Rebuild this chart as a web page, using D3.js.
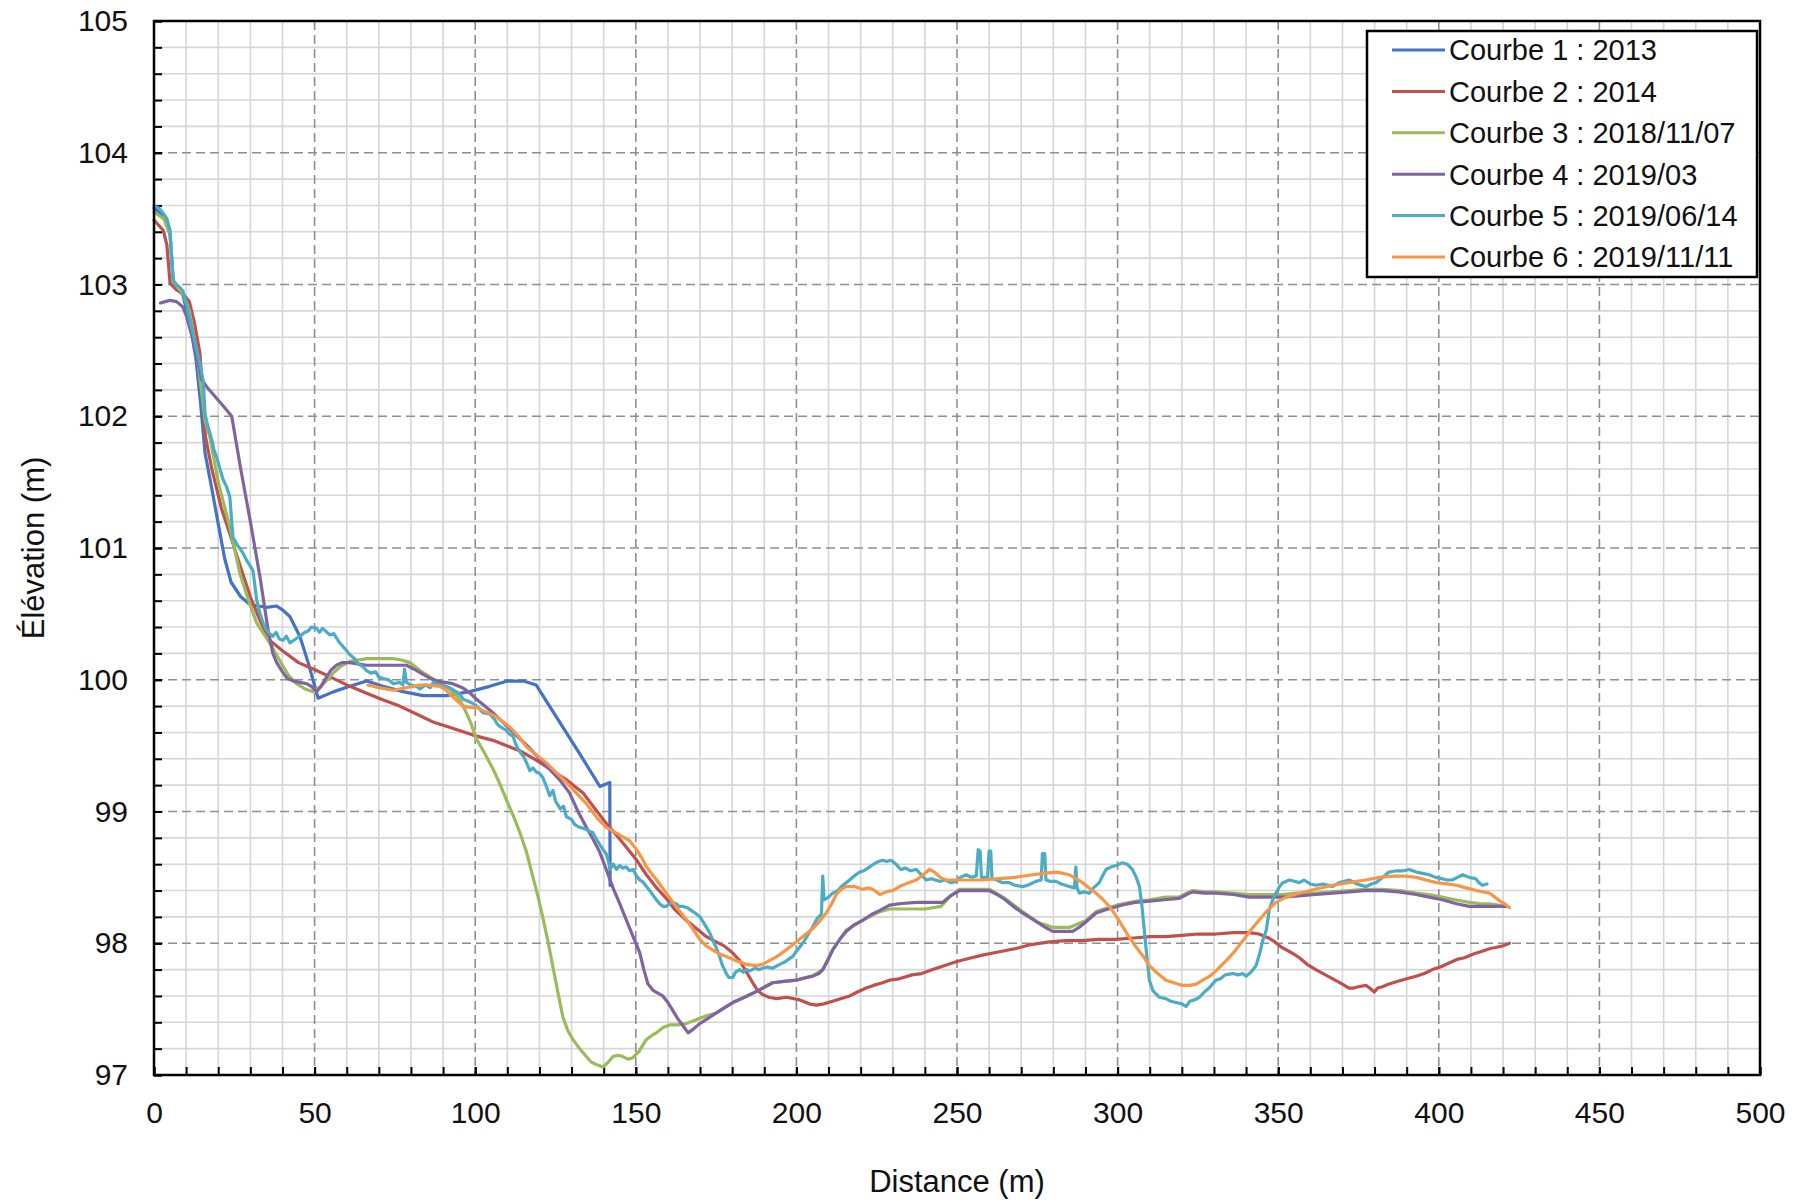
<!DOCTYPE html>
<html>
<head>
<meta charset="utf-8">
<script src="https://cdn.jsdelivr.net/npm/d3@7"></script>
<style>
  html, body { margin: 0; padding: 0; background: #ffffff; }
  svg { display: block; font-family: "Liberation Sans", Arial, sans-serif; }
</style>
</head>
<body>
<svg id="chart" width="1808" height="1202"></svg>
<script>
// Elevation profiles [distance (m), elevation (m)]
const courbe1 = [[0,103.58],[3,103.52],[5,103.38],[6,103.02],[9,102.92],[11,102.72],[13,102.45],[14.5,102.1],[15.9,101.72],[18,101.45],[20.1,101.17],[22,100.92],[24,100.74],[27,100.63],[30,100.57],[35,100.55],[38.2,100.56],[40,100.53],[42.3,100.48],[45.4,100.33],[48,100.13],[51.1,99.86],[56,99.91],[61,99.95],[66.2,99.99],[71.3,99.95],[77.5,99.91],[83.8,99.88],[91,99.88],[98.3,99.91],[104.5,99.95],[110,99.99],[115,99.99],[119,99.96],[132.5,99.44],[138.8,99.19],[141.9,99.22],[142,98.44],[142.6,98.44]];

const courbe2 = [[0,103.49],[2.9,103.41],[4,103.3],[5,103.01],[7,102.96],[9,102.93],[11,102.87],[12.5,102.72],[14.3,102.48],[16,101.85],[18,101.6],[21,101.3],[24,101.08],[27,100.85],[30,100.63],[33,100.45],[36,100.30],[40,100.22],[45,100.13],[50.6,100.07],[55,100.02],[61,99.95],[66,99.90],[71,99.85],[76.5,99.80],[81.7,99.74],[86.8,99.68],[92,99.64],[99.3,99.58],[105.5,99.54],[110.8,99.49],[114,99.46],[119,99.39],[124,99.31],[128.4,99.24],[133.6,99.14],[137,99.03],[140.8,98.91],[144,98.82],[147,98.73],[150,98.64],[153.3,98.52],[156.5,98.42],[159.5,98.34],[162,98.26],[165,98.19],[168.5,98.12],[172,98.05],[175,98.01],[177.5,97.98],[180,97.93],[182.3,97.87],[184.5,97.78],[186.4,97.70],[188,97.64],[189.5,97.61],[191.5,97.59],[193.7,97.58],[197,97.59],[201,97.57],[204,97.54],[206.2,97.53],[208.5,97.54],[211.3,97.56],[214,97.58],[216.6,97.60],[219,97.63],[221.7,97.66],[224,97.68],[226.8,97.70],[229,97.72],[232,97.73],[236,97.76],[239,97.77],[242.4,97.80],[246,97.83],[249.7,97.86],[253,97.88],[257.9,97.91],[262,97.93],[268.4,97.96],[273,97.99],[278.8,98.01],[284,98.02],[289,98.02],[294,98.03],[299.5,98.03],[305,98.04],[310,98.05],[315,98.05],[320,98.06],[325,98.07],[330.6,98.07],[336,98.08],[341,98.08],[344,98.07],[347,98.04],[349,98.01],[351,97.97],[354,97.93],[356.6,97.89],[359,97.84],[361.7,97.80],[364,97.77],[367,97.73],[370,97.69],[372,97.66],[373.5,97.66],[375,97.67],[377.3,97.68],[378.5,97.66],[379.9,97.63],[381,97.66],[382.4,97.67],[384.5,97.69],[387,97.71],[390,97.73],[392.9,97.75],[395.5,97.77],[398,97.80],[400.5,97.82],[403.2,97.85],[406,97.88],[408,97.89],[411,97.92],[413.5,97.94],[416,97.96],[418,97.97],[420,97.98],[422,98.0]];

const courbe3 = [[0,103.55],[3,103.50],[5,103.38],[6,103.02],[9,102.93],[11,102.80],[13.5,102.45],[15.9,101.97],[17.4,101.84],[20,101.50],[23.6,101.16],[26.8,100.80],[29.9,100.57],[32,100.43],[36,100.28],[40,100.11],[42,100.03],[44.4,99.97],[47,99.93],[49.5,99.91],[52,99.95],[55.8,100.05],[58,100.10],[61,100.14],[66.2,100.16],[70,100.16],[74.5,100.16],[77,100.15],[79.7,100.13],[82.8,100.07],[86,100.02],[88,99.99],[92,99.93],[94.5,99.87],[96.3,99.80],[98.5,99.68],[100.4,99.55],[103,99.44],[105.6,99.32],[107.5,99.22],[109.7,99.09],[112,98.96],[113.9,98.84],[116,98.69],[118,98.50],[119.5,98.36],[121,98.20],[122.7,98.01],[124.2,97.82],[125.8,97.62],[127.3,97.44],[128.8,97.34],[130.4,97.27],[132.5,97.20],[134.6,97.14],[136,97.10],[137.7,97.08],[139.8,97.06],[141.5,97.10],[142.9,97.14],[144.5,97.15],[146,97.14],[147.5,97.12],[149,97.13],[151,97.18],[153.3,97.27],[155,97.30],[156.4,97.32],[158.5,97.36],[160.5,97.38],[163,97.38],[165.7,97.39],[168.8,97.42],[172,97.45],[175,97.47],[180.2,97.55],[186.4,97.62],[192.6,97.70],[200,97.72],[205,97.75],[208.2,97.80],[211.3,97.95],[215.5,98.10],[221,98.18],[226,98.24],[229,98.26],[233,98.26],[236.5,98.26],[240,98.26],[245,98.28],[248,98.36],[250.8,98.41],[255,98.41],[260,98.41],[265,98.34],[270.4,98.24],[275,98.16],[280,98.12],[285,98.12],[290,98.17],[293.3,98.24],[297,98.27],[301.5,98.30],[306,98.32],[310,98.33],[315,98.35],[319,98.35],[323.3,98.40],[327,98.39],[330.6,98.39],[336,98.38],[341,98.37],[346,98.37],[351,98.37],[356,98.38],[361.7,98.38],[367,98.39],[372,98.40],[377,98.41],[382.4,98.41],[388,98.40],[392.9,98.38],[397,98.37],[401,98.35],[405,98.33],[409.5,98.31],[413,98.30],[415.7,98.30],[418.5,98.29],[421,98.28]];

const courbe4 = [[2,102.86],[3.5,102.87],[5,102.88],[7,102.87],[9,102.83],[10.1,102.76],[11,102.68],[12.5,102.56],[14.8,102.28],[16.5,102.22],[19,102.15],[21.5,102.08],[24.2,102.0],[27,101.6],[30,101.2],[33,100.78],[35.5,100.38],[37,100.2],[38.2,100.13],[40,100.06],[41.5,100.01],[43.4,99.99],[45.5,99.98],[47.5,99.97],[49,99.95],[50.6,99.91],[52,99.95],[53.7,100.02],[55,100.07],[56.8,100.11],[58.5,100.13],[61,100.13],[66.2,100.11],[70,100.11],[74,100.11],[78.6,100.11],[81,100.08],[83.8,100.04],[86,100.01],[88,99.99],[93,99.97],[96,99.94],[98.3,99.90],[100.5,99.85],[103,99.80],[105.5,99.75],[108.5,99.68],[111.8,99.60],[114,99.55],[117,99.48],[120,99.40],[123.2,99.32],[126.3,99.24],[129.4,99.14],[132,99.00],[134.6,98.88],[136.7,98.79],[138.8,98.69],[140.8,98.56],[142.9,98.42],[145,98.30],[147,98.18],[149,98.06],[151.2,97.93],[152.5,97.80],[153.8,97.69],[155.5,97.64],[158.4,97.60],[160,97.55],[161.5,97.49],[163,97.43],[164.5,97.38],[166.3,97.32],[168,97.35],[169.9,97.39],[172.5,97.43],[175,97.47],[177.5,97.51],[180.2,97.55],[183,97.58],[186.4,97.62],[189.5,97.66],[192.6,97.70],[196,97.71],[200,97.72],[203,97.74],[205,97.75],[207,97.77],[208.2,97.80],[209.8,97.87],[211.3,97.95],[213.5,98.03],[215.5,98.09],[218,98.14],[221,98.18],[223.5,98.22],[226,98.25],[229,98.29],[232,98.30],[237.3,98.31],[242,98.31],[245.5,98.31],[248,98.36],[250.8,98.40],[255,98.40],[260,98.40],[262.5,98.37],[265,98.33],[267.5,98.28],[270.4,98.23],[273,98.19],[275,98.16],[277.5,98.12],[279.8,98.09],[283,98.09],[286,98.09],[288,98.12],[290,98.16],[293.3,98.23],[297,98.26],[301.5,98.29],[305.5,98.31],[309.9,98.32],[314.5,98.33],[319.2,98.34],[321.5,98.37],[323.3,98.39],[327,98.38],[330.6,98.38],[336,98.37],[341,98.35],[346,98.35],[351.3,98.35],[356.5,98.36],[361.7,98.37],[367,98.38],[372.1,98.39],[377,98.40],[382.4,98.40],[387.5,98.39],[392.9,98.37],[397,98.35],[401.1,98.33],[405.5,98.30],[409.5,98.28],[412.5,98.28],[415.7,98.28],[418.5,98.28],[421,98.28]];

const courbe5 = [[0,103.60],[1.5,103.58],[2.9,103.54],[4,103.50],[5,103.41],[5.5,103.2],[6,103.03],[7,103.0],[8,102.98],[9,102.95],[10.3,102.83],[11.5,102.7],[13.3,102.5],[14.3,102.4],[15.3,102.27],[15.9,102.02],[16.5,101.95],[18,101.82],[18.6,101.75],[19.5,101.69],[20.3,101.62],[21.5,101.52],[22.5,101.47],[23.6,101.39],[24.2,101.2],[24.6,101.08],[26,101.02],[27.5,100.97],[29,100.9],[30.8,100.83],[32,100.6],[33,100.5],[34,100.43],[35,100.38],[36,100.35],[37,100.33],[38,100.36],[39,100.31],[40.2,100.30],[41.2,100.33],[42.3,100.28],[43.5,100.30],[45.4,100.33],[47,100.36],[48,100.37],[49,100.40],[50.6,100.39],[51.5,100.36],[52.5,100.39],[54.8,100.34],[56,100.35],[57.5,100.29],[58.9,100.25],[60,100.22],[61,100.19],[62.5,100.16],[63.5,100.12],[65,100.1],[66.2,100.07],[67.5,100.05],[69,100.06],[70,100.02],[71.3,100.01],[73,100.0],[74.5,99.97],[76.5,99.98],[77.5,99.96],[78,100.08],[78.6,99.98],[80,99.96],[81.7,99.95],[82.8,99.93],[84.5,99.96],[86,99.94],[87,99.98],[89,99.96],[90.5,99.95],[92,99.94],[94,99.91],[95.2,99.89],[96.3,99.85],[97.5,99.84],[99.3,99.82],[100.5,99.80],[102.4,99.75],[104.5,99.74],[106,99.70],[107,99.66],[108,99.64],[109.5,99.62],[110.5,99.59],[111.8,99.57],[112.5,99.52],[113,99.49],[114,99.45],[115,99.42],[116,99.37],[117,99.31],[118,99.33],[119,99.30],[120,99.29],[121,99.26],[122,99.20],[123.2,99.12],[124.2,99.16],[125,99.08],[126.5,99.02],[127.5,99.04],[128.4,98.96],[130,98.94],[131,98.90],[132.5,98.88],[134,98.87],[135.5,98.85],[136.6,98.84],[138,98.78],[139.8,98.71],[140.8,98.68],[141.5,98.62],[142,98.56],[143,98.60],[144,98.56],[145,98.59],[146,98.57],[147,98.58],[148,98.55],[149.2,98.56],[150,98.52],[151.2,98.48],[152,98.47],[153.3,98.43],[154.3,98.40],[155.5,98.36],[156.4,98.33],[157.4,98.30],[158.5,98.28],[159.5,98.28],[160.5,98.30],[161.6,98.31],[162.6,98.30],[163.5,98.28],[164.6,98.28],[166,98.27],[167.8,98.24],[169,98.22],[170,98.20],[171,98.16],[172,98.12],[173,98.08],[174,98.02],[175,97.97],[176.1,97.90],[177,97.83],[178.2,97.77],[179,97.74],[180.2,97.74],[181,97.78],[182.3,97.80],[183.5,97.78],[184.4,97.80],[185.5,97.79],[187,97.81],[188.5,97.80],[189.5,97.81],[191,97.82],[192.5,97.81],[194.8,97.84],[196.5,97.86],[198.9,97.90],[200,97.94],[201,97.97],[202.5,98.02],[204,98.08],[205,98.12],[206.5,98.19],[207.8,98.22],[208.2,98.51],[208.6,98.33],[210,98.35],[211.3,98.38],[213,98.40],[214,98.43],[215.5,98.46],[217,98.49],[218.5,98.52],[219.7,98.54],[221,98.55],[222.8,98.58],[224,98.60],[225.5,98.62],[227,98.63],[228,98.62],[229.5,98.63],[231,98.60],[232.5,98.56],[234,98.57],[235.5,98.55],[237.3,98.56],[238.5,98.53],[240.4,98.48],[242,98.49],[244.5,98.47],[246.5,98.48],[248,98.46],[249.7,98.47],[251,98.50],[252.9,98.52],[254.5,98.50],[256,98.51],[256.6,98.71],[257.2,98.70],[257.6,98.50],[259.5,98.50],[260,98.70],[260.5,98.70],[260.9,98.49],[262.5,98.48],[264,98.46],[266.3,98.46],[268,98.44],[270.4,98.43],[272,98.44],[274.6,98.47],[276.2,98.48],[276.6,98.68],[277.3,98.68],[277.7,98.48],[279,98.47],[280.8,98.47],[282.5,98.45],[285,98.43],[286.6,98.42],[287,98.58],[287.4,98.42],[288.1,98.38],[289.5,98.39],[291.2,98.38],[292.5,98.42],[294.3,98.46],[295.5,98.52],[296.4,98.56],[298,98.58],[299.5,98.59],[301.5,98.61],[303,98.60],[304.6,98.56],[305.8,98.50],[306.8,98.43],[307.6,98.28],[308.3,98.10],[309.1,97.90],[309.9,97.72],[311,97.64],[313,97.59],[315,97.58],[316.5,97.56],[318.2,97.55],[320,97.54],[321.3,97.52],[322.5,97.56],[324,97.57],[325.5,97.59],[327,97.63],[328.5,97.66],[330.6,97.72],[332,97.73],[333.5,97.76],[335.8,97.77],[337.5,97.76],[339,97.77],[340,97.75],[341.5,97.78],[343.1,97.83],[344.2,97.92],[345.2,98.02],[346.3,98.10],[347.2,98.25],[348.3,98.33],[350.4,98.43],[351.4,98.46],[353.5,98.48],[355,98.47],[356.6,98.46],[358,98.48],[360,98.45],[361.7,98.44],[364,98.45],[366.9,98.43],[369,98.46],[372.1,98.48],[374.5,98.45],[377.3,98.43],[379,98.45],[380.4,98.46],[382.5,98.50],[384.5,98.54],[387,98.55],[389,98.55],[390.8,98.56],[393,98.54],[395,98.53],[397,98.52],[399,98.50],[401.1,98.49],[402.5,98.48],[404.2,98.48],[405.8,98.50],[407.4,98.52],[409.5,98.50],[411.5,98.49],[412.5,98.46],[413.6,98.44],[415,98.45]];

const courbe6 = [[66.6,99.96],[70,99.94],[74.5,99.92],[78.6,99.94],[82.8,99.96],[85,99.96],[89,99.95],[90.5,99.93],[93,99.87],[96.2,99.80],[98.5,99.79],[100.4,99.79],[103,99.76],[106.6,99.72],[110.8,99.64],[113.5,99.57],[116,99.49],[119,99.43],[122.1,99.37],[125,99.30],[128.4,99.22],[131.5,99.14],[134.6,99.06],[138,98.95],[140.8,98.88],[143,98.85],[145,98.82],[148,98.78],[150,98.72],[151.8,98.65],[153.3,98.58],[156.5,98.48],[159.5,98.38],[162.5,98.28],[165.7,98.18],[168,98.10],[169.9,98.03],[171.9,97.98],[173.9,97.95],[176,97.92],[178.2,97.90],[181,97.87],[184.4,97.84],[187.5,97.83],[189.5,97.84],[191,97.86],[194,97.90],[196.8,97.95],[199,97.99],[201,98.03],[203,98.07],[205.1,98.11],[207.3,98.17],[209.3,98.23],[211,98.30],[212.4,98.37],[214,98.41],[215.5,98.43],[218,98.43],[220.6,98.41],[222.5,98.42],[223.8,98.41],[226,98.37],[228,98.39],[230,98.40],[232.1,98.43],[235,98.46],[237.3,98.48],[239.5,98.52],[241.4,98.56],[243,98.54],[244.8,98.50],[246.6,98.48],[250,98.48],[252.9,98.48],[258,98.48],[263.2,98.49],[268,98.50],[273.5,98.52],[277,98.53],[280.8,98.54],[283,98.53],[285,98.52],[287,98.49],[289.1,98.46],[291.2,98.42],[293.3,98.38],[295.5,98.33],[297.4,98.28],[299.5,98.21],[301.5,98.13],[303.5,98.05],[305.8,97.97],[308,97.90],[309.9,97.83],[312.5,97.77],[315.1,97.72],[317.5,97.70],[320.2,97.68],[322.5,97.68],[324.5,97.69],[326.5,97.72],[328.7,97.75],[331,97.80],[333.9,97.87],[336.5,97.94],[339,98.02],[341.5,98.10],[344.2,98.18],[346.7,98.25],[349.3,98.31],[352.5,98.35],[356.6,98.38],[361.5,98.41],[367,98.44],[372,98.46],[377.3,98.48],[381.5,98.50],[385.7,98.51],[389.5,98.51],[393,98.50],[396,98.48],[399.3,98.46],[402.5,98.45],[405.5,98.44],[408.5,98.42],[411.7,98.40],[415.8,98.38],[417.5,98.35],[419,98.32],[420.5,98.30],[422,98.27]];

const seriesData = [courbe1, courbe2, courbe3, courbe4, courbe5, courbe6];
const seriesNames = ["Courbe 1 : 2013", "Courbe 2 : 2014", "Courbe 3 : 2018/11/07",
                     "Courbe 4 : 2019/03", "Courbe 5 : 2019/06/14", "Courbe 6 : 2019/11/11"];
const seriesColors = ["#4472C4", "#C0504D", "#9BBB59", "#8064A2", "#4BACC6", "#F79646"];

const xMajorTicks = [0, 50, 100, 150, 200, 250, 300, 350, 400, 450, 500];
const yMajorTicks = [97, 98, 99, 100, 101, 102, 103, 104, 105];
const xTitle = "Distance (m)";
const yTitle = "Élévation (m)";

// Plot frame
const plotLeft = 154, plotRight = 1760, plotTop = 21, plotBottom = 1075;

const svg = d3.select("#chart");
const x = d3.scaleLinear().domain([0, 500]).range([plotLeft, plotRight]);
const y = d3.scaleLinear().domain([97, 105]).range([plotBottom, plotTop]);

const xMinor = d3.range(0, 51).map(i => i * 10);
const yMinor = d3.range(0, 41).map(i => +(97 + i * 0.2).toFixed(1));
const isMajorX = v => v % 50 === 0;
const isMajorY = v => Math.abs(v - Math.round(v)) < 1e-6;

// Minor grid
const grid = svg.append("g");
grid.selectAll("line.vminor")
  .data(xMinor.filter(v => !isMajorX(v)))
  .join("line")
  .attr("x1", d => x(d)).attr("x2", d => x(d))
  .attr("y1", plotTop).attr("y2", plotBottom)
  .attr("stroke", "#d6d6d6").attr("stroke-width", 1.6);
grid.selectAll("line.hminor")
  .data(yMinor.filter(v => !isMajorY(v)))
  .join("line")
  .attr("x1", plotLeft).attr("x2", plotRight)
  .attr("y1", d => y(d)).attr("y2", d => y(d))
  .attr("stroke", "#d6d6d6").attr("stroke-width", 1.6);

// Major grid (dashed)
grid.selectAll("line.vmajor")
  .data(xMajorTicks.filter(v => v > 0 && v < 500))
  .join("line")
  .attr("x1", d => x(d)).attr("x2", d => x(d))
  .attr("y1", plotTop).attr("y2", plotBottom)
  .attr("stroke", "#8f8f8f").attr("stroke-width", 1.6)
  .attr("stroke-dasharray", "9,5");
grid.selectAll("line.hmajor")
  .data(yMajorTicks.filter(v => v > 97 && v < 105))
  .join("line")
  .attr("x1", plotLeft).attr("x2", plotRight)
  .attr("y1", d => y(d)).attr("y2", d => y(d))
  .attr("stroke", "#8f8f8f").attr("stroke-width", 1.6)
  .attr("stroke-dasharray", "9,5");

// Axes: minor ticks pointing inward, major ticks with labels
const axisFont = 30;
const gxMinor = svg.append("g").attr("transform", `translate(0,${plotBottom})`)
  .call(d3.axisBottom(x).tickValues(xMinor).tickSize(-8).tickFormat(""));
const gyMinor = svg.append("g").attr("transform", `translate(${plotLeft},0)`)
  .call(d3.axisLeft(y).tickValues(yMinor).tickSize(-8).tickFormat(""));
const gx = svg.append("g").attr("transform", `translate(0,${plotBottom})`)
  .call(d3.axisBottom(x).tickValues(xMajorTicks).tickSize(-8).tickPadding(27).tickFormat(d3.format("d")));
const gy = svg.append("g").attr("transform", `translate(${plotLeft},0)`)
  .call(d3.axisLeft(y).tickValues(yMajorTicks).tickSize(-8).tickPadding(26).tickFormat(d3.format("d")));

[gxMinor, gyMinor, gx, gy].forEach(g => {
  g.select(".domain").remove();
  g.selectAll(".tick line").attr("stroke", "#000").attr("stroke-width", 2);
  g.selectAll(".tick text").attr("fill", "#111").attr("font-size", axisFont)
    .attr("font-family", "Liberation Sans, Arial, sans-serif");
});

// Profile lines
const line = d3.line().x(d => x(d[0])).y(d => y(d[1]));
svg.append("g").selectAll("path")
  .data(seriesData)
  .join("path")
  .attr("d", line)
  .attr("fill", "none")
  .attr("stroke", (d, i) => seriesColors[i])
  .attr("stroke-width", 3.2)
  .attr("stroke-linejoin", "round")
  .attr("stroke-linecap", "round");

// Plot border
svg.append("rect")
  .attr("x", plotLeft).attr("y", plotTop)
  .attr("width", plotRight - plotLeft).attr("height", plotBottom - plotTop)
  .attr("fill", "none").attr("stroke", "#000").attr("stroke-width", 2.5);

// Axis titles
svg.append("text")
  .attr("x", (plotLeft + plotRight) / 2).attr("y", 1192)
  .attr("text-anchor", "middle").attr("font-size", 31).attr("fill", "#111")
  .text(xTitle);
svg.append("text")
  .attr("transform", `translate(44,${(plotTop + plotBottom) / 2}) rotate(-90)`)
  .attr("text-anchor", "middle").attr("font-size", 31).attr("fill", "#111")
  .text(yTitle);

// Legend
const lg = svg.append("g");
lg.append("rect")
  .attr("x", 1367).attr("y", 31).attr("width", 390).attr("height", 246)
  .attr("fill", "#fff").attr("stroke", "#000").attr("stroke-width", 2.5);
const rows = lg.selectAll("g.row")
  .data(seriesNames)
  .join("g")
  .attr("transform", (d, i) => `translate(0,${50 + i * 41.4})`);
rows.append("line")
  .attr("x1", 1392).attr("x2", 1445).attr("y1", 0).attr("y2", 0)
  .attr("stroke", (d, i) => seriesColors[i]).attr("stroke-width", 3);
rows.append("text")
  .attr("x", 1449).attr("y", 0).attr("dy", "0.36em")
  .attr("font-size", 29).attr("fill", "#111")
  .text(d => d);
</script>
</body>
</html>
